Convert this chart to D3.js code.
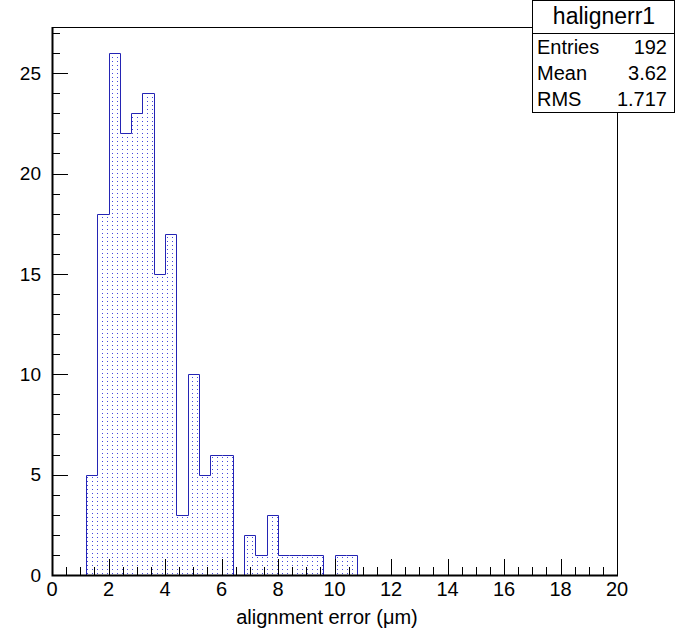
<!DOCTYPE html>
<html>
<head>
<meta charset="utf-8">
<script src="https://cdn.jsdelivr.net/npm/d3@7"></script>
<style>
  body { margin: 0; background: #fff; }
  text { font-family: "Liberation Sans", Arial, sans-serif; fill: #000; }
</style>
</head>
<body>
<script>
// histogram halignerr1 : 50 bins on [0, 20], width 0.4
var counts = [0, 0, 0, 5, 18, 26, 22, 23, 24, 15,
              17, 3, 10, 5, 6, 6, 0, 2, 1, 3,
              1, 1, 1, 1, 0, 1, 1, 0, 0, 0,
              0, 0, 0, 0, 0, 0, 0, 0, 0, 0,
              0, 0, 0, 0, 0, 0, 0, 0, 0, 0];
var xRange = [0, 20];
var xMajorTicks = [0, 2, 4, 6, 8, 10, 12, 14, 16, 18, 20];
var yMajorTicks = [0, 5, 10, 15, 20, 25];
var statNames = ["Entries", "Mean", "RMS"];
var statValues = ["192", "3.62", "1.717"];
var histName = "halignerr1";
var xTitle = "alignment error (\u03bcm)";

var width = 681,
    height = 634;

// frame edges (window.top is reserved, so prefixed names)
var fLeft = 52, fRight = 617, fTop = 27, fBottom = 575;
var binW = (xRange[1] - xRange[0]) / counts.length;
var ymax = d3.max(counts) * 1.05;

var x = d3.scaleLinear().domain(xRange).range([fLeft, fRight]);
var y = d3.scaleLinear().domain([0, ymax]).range([fBottom, fTop]);

function px(v) { return Math.round(x(v)) + 0.5; }
function py(v) { return Math.round(y(v)) + 0.5; }

var svg = d3.select("body").append("svg")
    .attr("width", width)
    .attr("height", height);

var defs = svg.append("defs");
var pat = defs.append("pattern")
    .attr("id", "dots")
    .attr("patternUnits", "userSpaceOnUse")
    .attr("width", 5)
    .attr("height", 4);
pat.append("rect")
    .attr("x", 2).attr("y", 1)
    .attr("width", 1).attr("height", 1)
    .attr("fill", "#4646dc");

// step outline of the histogram
var pts = [[px(xRange[0]), py(0)]];
counts.forEach(function(c, i) {
  var x0 = xRange[0] + i * binW;
  pts.push([px(x0), py(c)]);
  pts.push([px(x0 + binW), py(c)]);
});
pts.push([px(xRange[1]), py(0)]);

var line = d3.line();

svg.append("path")
    .attr("d", line(pts) + "Z")
    .attr("fill", "url(#dots)")
    .attr("stroke", "none");

svg.append("path")
    .attr("d", line(pts))
    .attr("fill", "none")
    .attr("stroke", "#2424b4")
    .attr("stroke-width", 1);

// frame
svg.append("rect")
    .attr("x", fLeft + 0.5).attr("y", fTop + 0.5)
    .attr("width", fRight - fLeft).attr("height", fBottom - fTop)
    .attr("fill", "none")
    .attr("stroke", "#000")
    .attr("stroke-width", 1);

// axis lines a little heavier than the frame
svg.append("path")
    .attr("d", "M" + (fLeft + 0.5) + "," + fTop + "V" + (fBottom + 0.5) + "H" + (fRight + 1))
    .attr("fill", "none")
    .attr("stroke", "#000")
    .attr("stroke-width", 2);

// x axis ticks (major 2, minor 0.5) drawn inside frame
var xAxis = svg.append("g");
d3.range(0, 20.001, 0.5).forEach(function(v) {
  var major = Math.abs(v / 2 - Math.round(v / 2)) < 1e-6;
  xAxis.append("line")
      .attr("x1", px(v)).attr("x2", px(v))
      .attr("y1", fBottom).attr("y2", fBottom - (major ? 16 : 8))
      .attr("stroke", "#000");
});
xAxis.selectAll("text.tick")
    .data(xMajorTicks)
  .enter().append("text")
    .attr("class", "tick")
    .attr("x", function(d) { return x(d); })
    .attr("y", 596)
    .attr("text-anchor", "middle")
    .style("font-size", "20px")
    .text(function(d) { return d; });

xAxis.append("text")
    .attr("x", 327)
    .attr("y", 624)
    .attr("text-anchor", "middle")
    .style("font-size", "20px")
    .text(xTitle);

// y axis ticks (major 5, minor 1)
var yAxis = svg.append("g");
d3.range(0, Math.floor(ymax) + 1, 1).forEach(function(v) {
  var major = v % 5 === 0;
  yAxis.append("line")
      .attr("x1", fLeft).attr("x2", fLeft + (major ? 16 : 8))
      .attr("y1", py(v)).attr("y2", py(v))
      .attr("stroke", "#000");
});
yAxis.selectAll("text.tick")
    .data(yMajorTicks)
  .enter().append("text")
    .attr("class", "tick")
    .attr("x", 41)
    .attr("y", function(d) { return y(d); })
    .attr("dy", "0.35em")
    .attr("text-anchor", "end")
    .style("font-size", "19px")
    .text(function(d) { return d; });

// stats box
var bx = 532, bw = 142, by = 0, bh = 112;
var stats = svg.append("g");
stats.append("rect")
    .attr("x", bx + 0.5).attr("y", by + 0.5)
    .attr("width", bw).attr("height", bh)
    .attr("fill", "#fff")
    .attr("stroke", "#000");
stats.append("line")
    .attr("x1", bx).attr("x2", bx + bw)
    .attr("y1", 33.5).attr("y2", 33.5)
    .attr("stroke", "#000");
stats.append("text")
    .attr("x", bx + bw / 2 + 1)
    .attr("y", 16)
    .attr("dy", "0.35em")
    .attr("text-anchor", "middle")
    .style("font-size", "23px")
    .text(histName);

var rowY = d3.scalePoint().domain(statNames).range([47, 99]);
stats.selectAll("text.name")
    .data(statNames)
  .enter().append("text")
    .attr("class", "name")
    .attr("x", bx + 5)
    .attr("y", function(d) { return rowY(d); })
    .attr("dy", "0.35em")
    .style("font-size", "20px")
    .text(function(d) { return d; });
stats.selectAll("text.val")
    .data(statValues)
  .enter().append("text")
    .attr("class", "val")
    .attr("x", bx + bw - 7)
    .attr("y", function(d, i) { return rowY(statNames[i]); })
    .attr("dy", "0.35em")
    .attr("text-anchor", "end")
    .style("font-size", "20px")
    .text(function(d) { return d; });
</script>
</body>
</html>
